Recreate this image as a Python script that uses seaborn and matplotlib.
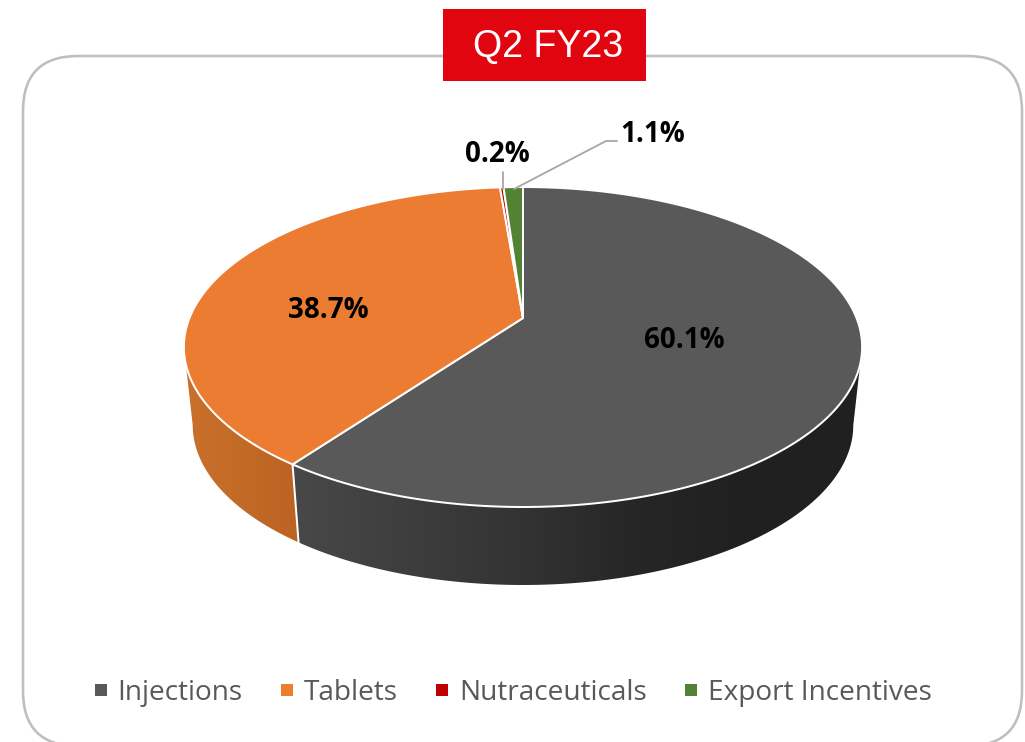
import numpy as np
import matplotlib
matplotlib.use("Agg")
import matplotlib.pyplot as plt
import seaborn as sns
from matplotlib.colors import LinearSegmentedColormap
from matplotlib.lines import Line2D
from matplotlib.patches import FancyBboxPatch, Polygon, Rectangle

# --- data ---
categories = ["Injections", "Tablets", "Nutraceuticals", "Export Incentives"]
shares = [60.1, 38.7, 0.2, 1.1]
share_labels = ["60.1%", "38.7%", "0.2%", "1.1%"]
panel_title = "Q2 FY23"

sns.set_theme(style="white")
top_colors = sns.color_palette(["#595959", "#EB7C31", "#C00000", "#548235"])
legend_colors = sns.color_palette(["#595959", "#ED7D31", "#C00000", "#548235"])

PX = 0.72  # px to pt at dpi 100


# perspective map of the unit circle, fitted on the picture
def project(u, v):
    d = 0.18125 * v + 1
    return 523 + 333.5 * u / d, (-97.1 * v + 318) / d


def to_bottom(x, y):
    return 523 + 0.974 * (x - 523), y + 78


def rim(a0, a1):
    n = max(int(abs(a1 - a0) * 80), 4)
    th = np.linspace(a0, a1, n)
    return project(np.sin(th), np.cos(th))


fig = plt.figure(figsize=(10.25, 7.42), dpi=100)
ax = fig.add_axes([0, 0, 1, 1])
ax.set_axis_off()

# card behind the chart
card = FancyBboxPatch((23 + 55, 56 + 55), 999 - 110, 690 - 110,
                      boxstyle="round,pad=55", fc="white", ec="#BFBFBF", lw=2.6 * PX)
ax.add_patch(card)

# wedge angles, clockwise from 12 o'clock
edges = np.concatenate([[0], np.cumsum(shares)]) / np.sum(shares) * 2 * np.pi

side_maps = [
    LinearSegmentedColormap.from_list("d", ["#484848", "#3E3E3E", "#333333", "#262626", "#202020", "#202020"]),
    LinearSegmentedColormap.from_list("o", ["#C9712B", "#BC6323"]),
]

# angle where the projected rim is widest, the wall silhouette starts there
widest = np.arccos(-0.181)

# side walls, only the front of the rim shows
for i in range(len(side_maps)):
    a0 = max(edges[i], widest)
    a1 = min(edges[i + 1], 2 * np.pi - widest)
    x, y = rim(a0, a1)
    bx, by = to_bottom(x, y)
    pts = np.column_stack([np.r_[x, bx[::-1]], np.r_[y, by[::-1]]])
    poly = Polygon(pts, closed=True, fc="none", ec="none", transform=ax.transData)
    ax.add_patch(poly)
    x0, x1 = pts[:, 0].min(), pts[:, 0].max()
    y0, y1 = pts[:, 1].min(), pts[:, 1].max()
    im = ax.imshow(np.linspace(0, 1, 256).reshape(1, -1), cmap=side_maps[i], aspect="auto",
                   extent=[x0, x1, y1, y0], zorder=1)
    im.set_clip_path(poly)

# white seam between the two visible walls
sx, sy = project(np.sin(edges[1]), np.cos(edges[1]))
bx, by = to_bottom(sx, sy)
ax.plot([sx, bx], [sy, by], color="white", lw=2 * PX, zorder=2)

# top face
apex = project(0.0, 0.0)
for i, c in enumerate(top_colors):
    x, y = rim(edges[i], edges[i + 1])
    ax.fill(np.r_[apex[0], x], np.r_[apex[1], y], fc=c, ec="white", lw=2 * PX,
            joinstyle="round", zorder=3)

# leader lines
ax.plot([503, 503], [172, 189], color="#A6A6A6", lw=1.8 * PX, zorder=4)
ax.plot([514, 606, 617], [189, 141, 141], color="#A6A6A6", lw=1.8 * PX, zorder=4)

# labels
label_xy = [(684, 340), (328, 310), (497, 155), (653, 134)]
for txt, (lx, ly) in zip(share_labels, label_xy):
    ax.text(lx, ly, txt, ha="center", va="center", color="black", fontsize=27.7 * PX,
            fontweight="bold", family="Open Sans", zorder=5)

# title tag sits over the card border
ax.add_patch(Rectangle((443, 9), 203, 72, fc="#E10510", ec="none", zorder=6))
ax.text(548, 47, panel_title, ha="center", va="center", color="white", fontsize=37.5 * PX,
        family="Liberation Sans", zorder=7)

handles = [Line2D([], [], marker="s", ls="none", ms=12 * PX, mfc=c, mec=c, mew=0) for c in legend_colors]
ax.legend(handles, categories, loc="center", bbox_to_anchor=(513, 693),
          bbox_transform=ax.transData, ncol=4, frameon=False, handlelength=0.43,
          handletextpad=0.39, columnspacing=1.36, labelcolor="#595959", borderpad=0,
          prop={"family": "Open Sans", "size": 28 * PX})

ax.set_xlim(0, 1025)
ax.set_ylim(742, 0)

fig.savefig("out.png", dpi=100)
